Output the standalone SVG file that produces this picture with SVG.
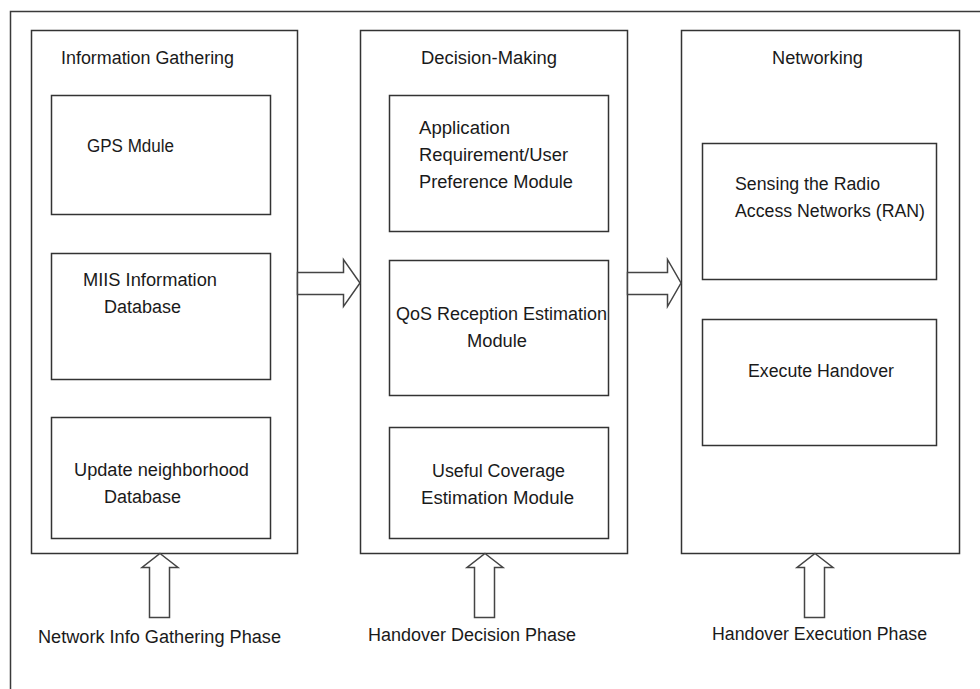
<svg xmlns="http://www.w3.org/2000/svg" width="980" height="689" viewBox="0 0 980 689">
<style>
.frame{fill:none;stroke:#3a3a3a;stroke-width:1.5}
.box{fill:#fff;stroke:#333;stroke-width:1.5}
.arr{fill:#fff;stroke:#444;stroke-width:1.5;stroke-linejoin:miter}
text{font-family:"Liberation Sans",Arial,sans-serif;font-size:18px;fill:#1a1a1a}
</style>
<rect x="0" y="0" width="980" height="689" fill="#fff"/>
<rect class="frame" x="10.5" y="11.5" width="990" height="700"/>

<g id="col-info">
<rect class="box" x="31.5" y="30.5" width="266" height="523"/>
<text x="61" y="64" textLength="173" lengthAdjust="spacingAndGlyphs">Information Gathering</text>
</g>
<g id="gps">
<rect class="box" x="51.5" y="95.5" width="219" height="119"/>
<text x="87" y="152" textLength="87" lengthAdjust="spacingAndGlyphs">GPS Mdule</text>
</g>
<g id="miis">
<rect class="box" x="51.5" y="253.5" width="219" height="126"/>
<text x="83" y="286" textLength="134" lengthAdjust="spacingAndGlyphs">MIIS Information</text>
<text x="104" y="313" textLength="77" lengthAdjust="spacingAndGlyphs">Database</text>
</g>
<g id="update">
<rect class="box" x="51.5" y="417.5" width="219" height="121"/>
<text x="74" y="476" textLength="175" lengthAdjust="spacingAndGlyphs">Update neighborhood</text>
<text x="104" y="503" textLength="77" lengthAdjust="spacingAndGlyphs">Database</text>
</g>

<g id="col-decision">
<rect class="box" x="360.5" y="30.5" width="267" height="523"/>
<text x="421" y="64" textLength="136" lengthAdjust="spacingAndGlyphs">Decision-Making</text>
</g>
<g id="app">
<rect class="box" x="389.5" y="95.5" width="219" height="136"/>
<text x="419" y="134" textLength="91" lengthAdjust="spacingAndGlyphs">Application</text>
<text x="419" y="161" textLength="149" lengthAdjust="spacingAndGlyphs">Requirement/User</text>
<text x="419" y="188" textLength="154" lengthAdjust="spacingAndGlyphs">Preference Module</text>
</g>
<g id="qos">
<rect class="box" x="389.5" y="260.5" width="219" height="135"/>
<text x="396" y="320" textLength="211" lengthAdjust="spacingAndGlyphs">QoS Reception Estimation</text>
<text x="467" y="347" textLength="60" lengthAdjust="spacingAndGlyphs">Module</text>
</g>
<g id="coverage">
<rect class="box" x="389.5" y="427.5" width="219" height="111"/>
<text x="432" y="477" textLength="133" lengthAdjust="spacingAndGlyphs">Useful Coverage</text>
<text x="421" y="504" textLength="153" lengthAdjust="spacingAndGlyphs">Estimation Module</text>
</g>

<g id="col-networking">
<rect class="box" x="681.5" y="30.5" width="278" height="523"/>
<text x="772" y="64" textLength="91" lengthAdjust="spacingAndGlyphs">Networking</text>
</g>
<g id="sensing">
<rect class="box" x="702.5" y="143.5" width="234" height="136"/>
<text x="735" y="190" textLength="145" lengthAdjust="spacingAndGlyphs">Sensing the Radio</text>
<text x="735" y="217" textLength="190" lengthAdjust="spacingAndGlyphs">Access Networks (RAN)</text>
</g>
<g id="execute">
<rect class="box" x="702.5" y="319.5" width="234" height="126"/>
<text x="748" y="377" textLength="146" lengthAdjust="spacingAndGlyphs">Execute Handover</text>
</g>

<g id="connectors">
<polygon class="arr" points="297.5,272.5 343.5,272.5 343.5,259.5 360,283 343.5,306.5 343.5,294.5 297.5,294.5"/>
<polygon class="arr" points="627.5,272.5 667.5,272.5 667.5,259.5 681,283 667.5,306.5 667.5,294.5 627.5,294.5"/>
<polygon class="arr" points="160,553.5 178,567.5 169.5,567.5 169.5,617.5 149.5,617.5 149.5,567.5 142,567.5"/>
<polygon class="arr" points="485,553.5 503,567.5 494.5,567.5 494.5,617.5 474.5,617.5 474.5,567.5 467,567.5"/>
<polygon class="arr" points="815,553.5 833,567.5 824.5,567.5 824.5,617.5 804.5,617.5 804.5,567.5 797,567.5"/>
</g>

<g id="phase-labels">
<text x="38" y="643" textLength="243" lengthAdjust="spacingAndGlyphs">Network Info Gathering Phase</text>
<text x="368" y="641" textLength="208" lengthAdjust="spacingAndGlyphs">Handover Decision Phase</text>
<text x="712" y="640" textLength="215" lengthAdjust="spacingAndGlyphs">Handover Execution Phase</text>
</g>
</svg>
